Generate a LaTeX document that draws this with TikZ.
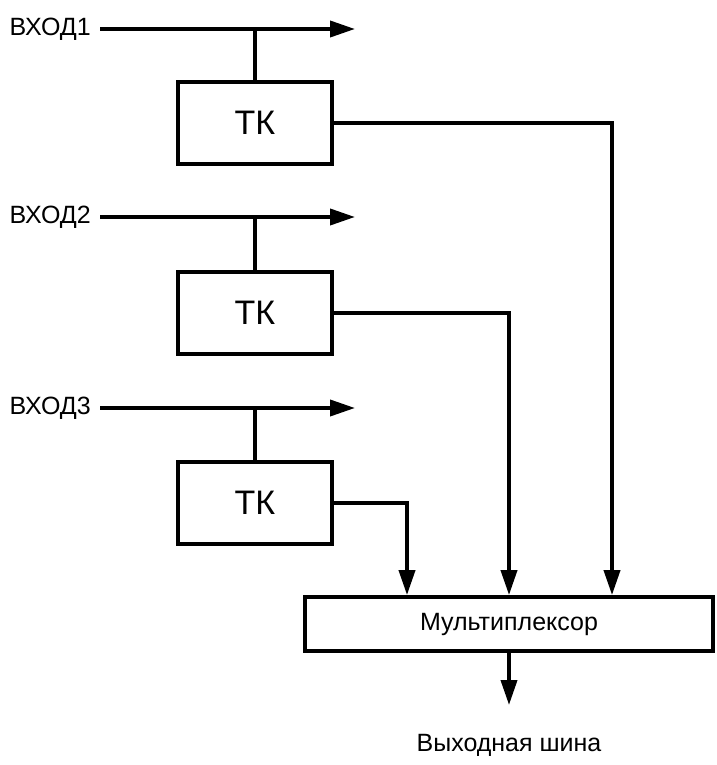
\documentclass[tikz,border=0pt]{standalone}
\usepackage{fontspec}
\setmainfont{Liberation Sans}
\usetikzlibrary{arrows.meta,positioning}
\begin{document}
\begin{tikzpicture}[x=1pt,y=-1pt,
  wire/.style={line width=3.8pt},
  arr/.style={wire,-{Triangle[length=25pt,width=16pt]}},
  tkbox/.style={draw,line width=3.8pt,minimum width=154pt,minimum height=82pt,inner sep=0pt,font=\fontsize{34}{38}\selectfont},
  lbl/.style={inner sep=0pt,font=\fontsize{25}{29}\selectfont}]
\useasboundingbox (0,0) rectangle (716,765);

% inputs
\node[lbl,anchor=east] (l1) at (91,29) {ВХОД1};
\node[lbl,anchor=east] (l2) at (91,217) {ВХОД2};
\node[lbl,anchor=east] (l3) at (91,408) {ВХОД3};
\coordinate (s1) at (100,29);  \coordinate (e1) at (355,29);
\coordinate (s2) at (100,217); \coordinate (e2) at (355,217);
\coordinate (s3) at (100,408); \coordinate (e3) at (355,408);
\draw[arr] (s1) -- (e1);
\draw[arr] (s2) -- (e2);
\draw[arr] (s3) -- (e3);

% TK blocks
\node[tkbox] (tk1) at (255,123) {ТК};
\node[tkbox] (tk2) at (255,313) {ТК};
\node[tkbox] (tk3) at (255,503) {ТК};
\draw[wire] (tk1.north) -- (tk1.north |- s1);
\draw[wire] (tk2.north) -- (tk2.north |- s2);
\draw[wire] (tk3.north) -- (tk3.north |- s3);

% multiplexer
\node[draw,line width=3.8pt,minimum width=408pt,minimum height=54pt,inner sep=0pt,
  font=\fontsize{25}{29}\selectfont] (mux) at (509,624) {Мультиплексор};
\draw[arr] (tk1.east) -| ([xshift=103pt]mux.north);
\draw[arr] (tk2.east) -| (mux.north);
\draw[arr] (tk3.east) -| ([xshift=-102pt]mux.north);

% output bus
\coordinate (out) at (509,705);
\draw[arr] (mux.south) -- (out);
\node[lbl] (bus) at (509,745) {Выходная шина};
\end{tikzpicture}
\end{document}
